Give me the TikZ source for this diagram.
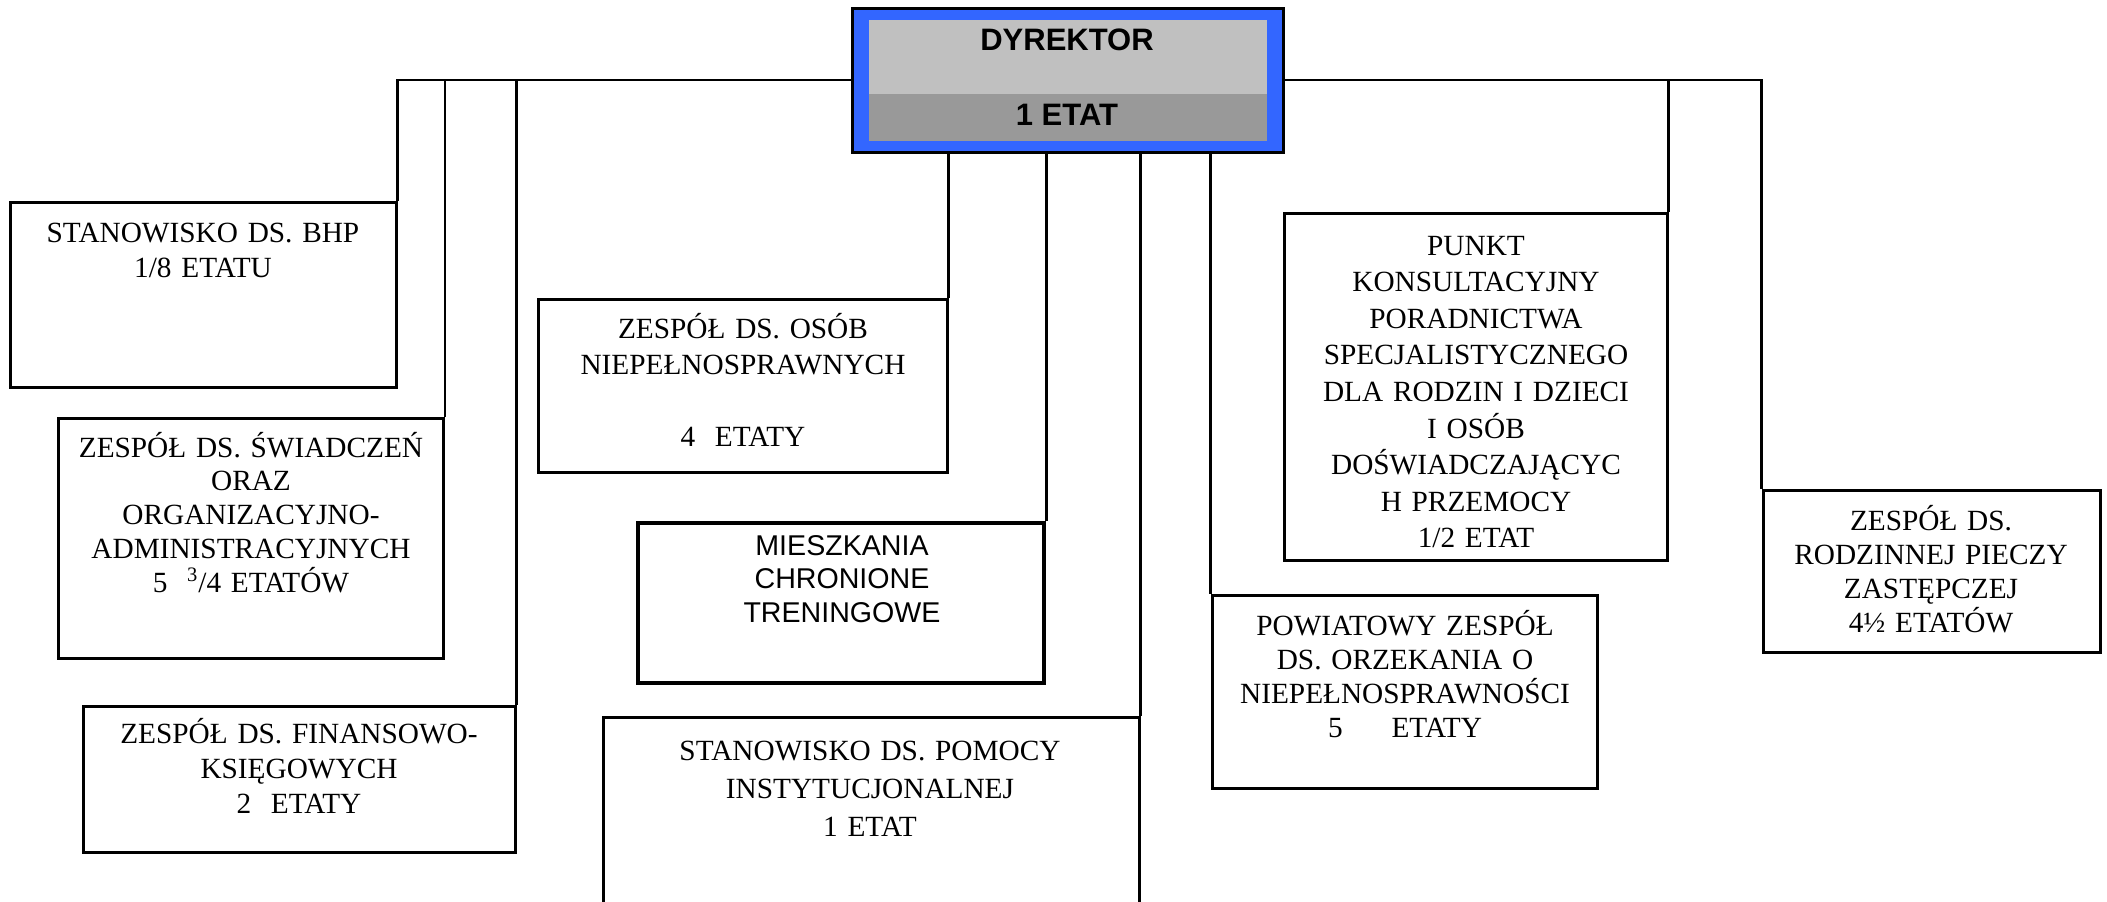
\documentclass[tikz,border=0pt]{standalone}
\usepackage{fontspec}
\setmainfont{Liberation Serif}
\setsansfont{Liberation Sans}
\usetikzlibrary{fit}
\definecolor{dirblue}{HTML}{3366FF}
\definecolor{lgray}{HTML}{C0C0C0}
\definecolor{dgray}{HTML}{999999}
\begin{document}
\begin{tikzpicture}[x=0.5pt,y=-0.5pt,
  box/.style={draw, line width=1.5pt, inner sep=0pt},
  conn/.style={line width=1.3pt},
  txt/.style={inner sep=0pt, text width=230pt, align=center, anchor=base,
    font=\fontsize{14.65pt}{17.5pt}\selectfont},
  sanstxt/.style={inner sep=0pt, text width=230pt, align=center, anchor=base,
    font=\sffamily\fontsize{14.3pt}{16.75pt}\selectfont},
  dirtxt/.style={inner sep=0pt, anchor=base,
    font=\sffamily\bfseries\fontsize{15.5pt}{18pt}\selectfont}]
\useasboundingbox (0,0) rectangle (2107,901);

% boxes
\node[box, fit={(10,202)(396,387)}] (bhp) {};
\node[box, fit={(58,418)(443.5,658)}] (swi) {};
\node[box, fit={(83,706)(515,852)}] (fin) {};
\node[box, fit={(538,299)(947,472)}] (osob) {};
\node[box, line width=2.2pt, fit={(638,523)(1044,683)}] (mies) {};
\node[box, fit={(603,717)(1139,915)}] (pomoc) {};
\node[box, fit={(1284,213)(1667,560)}] (punkt) {};
\node[box, fit={(1212,595)(1597,788)}] (powiat) {};
\node[box, fit={(1763,490)(2100,652)}] (rodz) {};

% director
\node[draw, line width=1.5pt, fill=dirblue, inner sep=0pt, fit={(852,8)(1283,152)}] (dir) {};
\fill[lgray] (869,20) rectangle (1267,94);
\fill[dgray] (869,94) rectangle (1267,141);
\node[dirtxt] (dirA) at (1067,50) {DYREKTOR};
\node[dirtxt] (dirB) at (1067,125) {1 ETAT};

% connectors
\draw[conn] (dir.west) -| (bhp.north east);
\draw[conn] (dir.west) -| (swi.north east);
\draw[conn] (dir.west) -| (fin.north east);
\draw[conn] (dir.east) -| (punkt.north east);
\draw[conn] (dir.east) -| (rodz.north west);
\draw[conn] (dir.south -| osob.north east) -- (osob.north east);
\draw[conn] (dir.south -| mies.north east) -- (mies.north east);
\draw[conn] (dir.south -| pomoc.north east) -- (pomoc.north east);
\draw[conn] (dir.south -| powiat.north west) -- (powiat.north west);

% texts
\node[txt] (bhpT) at (203,242) {STANOWISKO DS. BHP\\1/8 ETATU};
\node[txt, font=\fontsize{14.65pt}{16.9pt}\selectfont] (swiT) at (251,457) {ZESPÓŁ DS. ŚWIADCZEŃ\\ORAZ\\ORGANIZACYJNO-\\ADMINISTRACYJNYCH\\5\ \ \textsuperscript{3}/4 ETATÓW};
\node[txt] (finT) at (299,743) {ZESPÓŁ DS. FINANSOWO-\\KSIĘGOWYCH\\2\ \ ETATY};
\node[txt, font=\fontsize{14.65pt}{18.1pt}\selectfont] (osobT) at (743,338) {ZESPÓŁ DS. OSÓB\\NIEPEŁNOSPRAWNYCH\\\mbox{}\\4\ \ ETATY};
\node[sanstxt] (miesT) at (842,555) {MIESZKANIA\\CHRONIONE\\TRENINGOWE};
\node[txt, font=\fontsize{14.65pt}{19pt}\selectfont] (pomocT) at (870,760) {STANOWISKO DS. POMOCY\\INSTYTUCJONALNEJ\\1 ETAT};
\node[txt, font=\fontsize{14.65pt}{18.3pt}\selectfont] (punktT) at (1476,255) {PUNKT\\KONSULTACYJNY\\PORADNICTWA\\SPECJALISTYCZNEGO\\DLA RODZIN I DZIECI\\I OSÓB\\DOŚWIADCZAJĄCYC\\H PRZEMOCY\\1/2 ETAT};
\node[txt, font=\fontsize{14.65pt}{17pt}\selectfont] (powiatT) at (1405,635) {POWIATOWY ZESPÓŁ\\DS. ORZEKANIA O\\NIEPEŁNOSPRAWNOŚCI\\5\ \ \ \ \ ETATY};
\node[txt, font=\fontsize{14.65pt}{17pt}\selectfont] (rodzT) at (1931,530) {ZESPÓŁ DS.\\RODZINNEJ PIECZY\\ZASTĘPCZEJ\\4½ ETATÓW};
\end{tikzpicture}
\end{document}
